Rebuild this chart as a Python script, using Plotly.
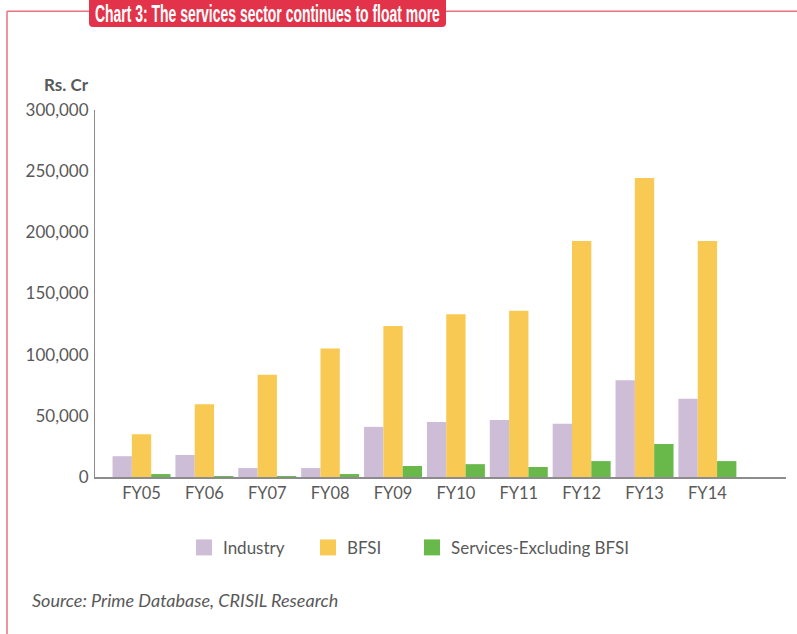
import plotly.graph_objects as go

# Capital raised by sector, Rs. crore
years = ["FY05", "FY06", "FY07", "FY08", "FY09", "FY10", "FY11", "FY12", "FY13", "FY14"]
industry = [17000, 18000, 7300, 7300, 41000, 45000, 46500, 43500, 79000, 64000]
bfsi = [35000, 59500, 83500, 105000, 123500, 133000, 136000, 193000, 244500, 193000]
services_ex_bfsi = [2400, 800, 800, 2400, 9000, 10500, 8200, 13000, 27000, 13000]

y_ticks = [0, 50000, 100000, 150000, 200000, 250000, 300000]

series_names = ["Industry", "BFSI", "Services-Excluding BFSI"]
colors = ["#CDBDD7", "#F8C953", "#69B84A"]

W, H = 797, 634
L, R, T, B = 95, 11, 110, 156.5
PW, PH = W - L - R, H - T - B


def px_x(p):
    return (p - L) / PW


def px_y(p):
    return (H - B - p) / PH


fig = go.Figure()
for name, vals, col in zip(series_names, [industry, bfsi, services_ex_bfsi], colors):
    fig.add_trace(go.Bar(x=years, y=vals, name=name, marker=dict(color=col, line=dict(width=0))))

text_gray = "#595959"
fig.update_layout(
    width=W, height=H,
    margin=dict(l=L, r=R, t=T, b=B, autoexpand=False),
    paper_bgcolor="white", plot_bgcolor="white",
    barmode="group", bargap=0.078, bargroupgap=0,
    font=dict(family="Lato, Carlito, sans-serif", color=text_gray, size=16),
    showlegend=False,
    xaxis=dict(
        range=[-0.74, 10.25], showline=True, linecolor="#8C8C8C", linewidth=2,
        ticks="", showgrid=False, zeroline=False, tickfont=dict(size=16.5, color=text_gray),
        fixedrange=True,
    ),
    yaxis=dict(
        range=[0, 300000], tickvals=y_ticks, tickformat=",", showline=True,
        linecolor="#8C8C8C", linewidth=1, ticks="", showgrid=False, zeroline=False,
        tickfont=dict(size=17, color=text_gray), ticklabelstandoff=2, fixedrange=True,
    ),
)

# legend drawn as swatches + labels
legend_swatch_x = [196, 320, 424]
for sx, name, col in zip(legend_swatch_x, series_names, colors):
    fig.add_shape(type="rect", xref="paper", yref="paper", x0=px_x(sx), x1=px_x(sx + 16),
                  y0=px_y(556), y1=px_y(540), fillcolor=col, line=dict(width=0))
    fig.add_annotation(text=name, xref="paper", yref="paper", x=px_x(sx + 25), y=px_y(548),
                       xanchor="left", yanchor="middle", showarrow=False,
                       font=dict(size=17, color=text_gray))

# outer frame
frame = "#E8707F"
fig.add_shape(type="line", xref="paper", yref="paper", x0=px_x(7), x1=px_x(7),
              y0=px_y(11), y1=px_y(640), line=dict(color=frame, width=1.5), layer="below")
fig.add_shape(type="line", xref="paper", yref="paper", x0=px_x(7), x1=px_x(800),
              y0=px_y(11), y1=px_y(11), line=dict(color=frame, width=1.5), layer="below")

# title badge with rounded lower corners
bx0, bx1, by0, by1, r = 89, 446, -2, 27, 4
badge = (f"M {px_x(bx0)},{px_y(by0)} L {px_x(bx1)},{px_y(by0)} L {px_x(bx1)},{px_y(by1 - r)} "
         f"Q {px_x(bx1)},{px_y(by1)} {px_x(bx1 - r)},{px_y(by1)} L {px_x(bx0 + r)},{px_y(by1)} "
         f"Q {px_x(bx0)},{px_y(by1)} {px_x(bx0)},{px_y(by1 - r)} Z")
fig.add_shape(type="path", xref="paper", yref="paper", path=badge,
              fillcolor="#E3334A", line=dict(width=0), layer="below")
fig.add_annotation(text="Chart 3: The services sector continues to float more",
                   xref="paper", yref="paper", x=px_x(267.5), y=px_y(13.5),
                   xanchor="center", yanchor="middle", showarrow=False,
                   font=dict(family="Liberation Sans, Arial, sans-serif",
                             size=23, color="white", weight="bold"))

fig.add_annotation(text="<b>Rs. Cr</b>", xref="paper", yref="paper", x=px_x(91), y=px_y(84),
                   xanchor="right", yanchor="middle", showarrow=False,
                   font=dict(size=17, color=text_gray))
fig.add_annotation(text="<i>Source: Prime Database, CRISIL Research</i>", xref="paper", yref="paper",
                   x=px_x(30), y=px_y(601), xanchor="left", yanchor="middle", showarrow=False,
                   font=dict(size=18, color=text_gray))

# the title is set in a condensed cut: squeeze the glyphs to the badge width
condense = """
var squeeze = function () {
  document.querySelectorAll('text.annotation-text').forEach(function (t) {
    if (t.textContent.indexOf('Chart 3') === 0) {
      t.setAttribute('textLength', '345');
      t.setAttribute('lengthAdjust', 'spacingAndGlyphs');
    }
  });
};
squeeze(); setTimeout(squeeze, 0); setTimeout(squeeze, 200);
"""

fig.write_html("out.html", post_script=condense)
